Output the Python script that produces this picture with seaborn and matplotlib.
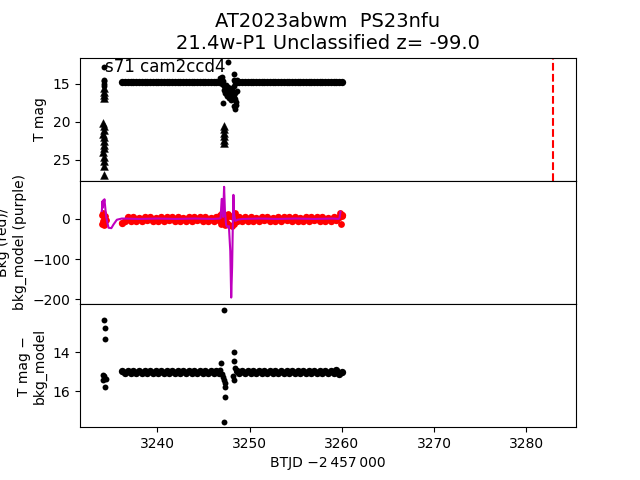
import matplotlib
matplotlib.use("Agg")
import matplotlib.pyplot as plt
import seaborn as sns
import pandas as pd

# ---------------- data ----------------
# dense band times (BTJD - 2457000)
t_band1 = [3236.2, 3236.5, 3236.8, 3237.1, 3237.4, 3237.7, 3238.0, 3238.3, 3238.6,
           3238.9, 3239.2, 3239.5, 3239.8, 3240.1, 3240.4, 3240.7, 3241.0, 3241.3,
           3241.6, 3241.9, 3242.2, 3242.5, 3242.8, 3243.1, 3243.4, 3243.7, 3244.0,
           3244.3, 3244.6, 3244.9, 3245.2, 3245.5, 3245.8, 3246.1, 3246.4, 3246.7]
t_band2 = [3248.6, 3248.9, 3249.2, 3249.5, 3249.8, 3250.1, 3250.4, 3250.7, 3251.0,
           3251.3, 3251.6, 3251.9, 3252.2, 3252.5, 3252.8, 3253.1, 3253.4, 3253.7,
           3254.0, 3254.3, 3254.6, 3254.9, 3255.2, 3255.5, 3255.8, 3256.1, 3256.4,
           3256.7, 3257.0, 3257.3, 3257.6, 3257.9, 3258.2, 3258.5, 3258.8, 3259.1,
           3259.4, 3259.7, 3260.0]

# T mag in the band
tmag_band1 = [14.81, 14.86, 14.82, 14.85, 14.80, 14.84, 14.82, 14.86, 14.81, 14.84,
              14.80, 14.85, 14.83, 14.85, 14.81, 14.86, 14.82, 14.84, 14.80, 14.85,
              14.82, 14.86, 14.81, 14.84, 14.80, 14.85, 14.83, 14.85, 14.81, 14.86,
              14.82, 14.84, 14.80, 14.85, 14.82, 14.86]
tmag_band2 = [14.82, 14.85, 14.80, 14.86, 14.82, 14.84, 14.81, 14.86, 14.82, 14.84,
              14.80, 14.85, 14.83, 14.85, 14.81, 14.86, 14.82, 14.84, 14.80, 14.85,
              14.82, 14.86, 14.81, 14.84, 14.80, 14.85, 14.83, 14.85, 14.81, 14.86,
              14.82, 14.84, 14.80, 14.85, 14.82, 14.86, 14.81, 14.84, 14.83]

# background in the band
bkg_band1 = [-9, -6, 4, -5, 5, -4, 3, -5, 5, -3, 5, -5, 2, -5, 5, -4, 5, -3,
             4, -5, 5, -5, 3, -4, 5, -5, 4, -3, 5, -5, 5, -4, 3, -5, 5, -2]
bkg_band2 = [-6, 5, -5, 4, -5, 5, -4, 3, -5, 5, -3, 5, -5, 2, -5, 5, -4, 5,
             -3, 4, -5, 5, -5, 3, -4, 5, -5, 4, -3, 5, -5, 5, -4, 3, -5, 5,
             -2, 4, 9]

# T mag - bkg_model in the band
diff_band1 = [14.93, 15.06, 14.95, 15.05, 14.93, 15.06, 14.96, 15.04, 14.94, 15.05,
              14.96, 15.04, 14.93, 15.06, 14.95, 15.05, 14.94, 15.05, 14.96, 15.04,
              14.93, 15.06, 14.95, 15.05, 14.94, 15.05, 14.96, 15.04, 14.93, 15.06,
              14.95, 15.05, 14.94, 15.05, 14.96, 15.04]
diff_band2 = [14.94, 15.05, 14.96, 15.04, 14.93, 15.06, 14.95, 15.05, 14.94, 15.05,
              14.96, 15.04, 14.93, 15.06, 14.95, 15.05, 14.94, 15.05, 14.96, 15.04,
              14.93, 15.06, 14.95, 15.05, 14.94, 15.05, 14.96, 15.04, 14.93, 15.06,
              14.95, 15.05, 14.94, 15.05, 14.96, 15.04, 14.92, 15.08, 15.00]

# isolated detections (top panel, dots)
t_dots = [3234.15, 3234.20, 3234.25, 3234.18, 3234.22,
          3246.80, 3246.90, 3247.00, 3247.05, 3247.10, 3247.15, 3247.20, 3247.25,
          3247.30, 3247.35, 3247.40, 3247.45, 3247.50, 3247.55, 3247.60, 3247.65,
          3247.70, 3247.75, 3247.80, 3247.85, 3247.90, 3248.00, 3248.05, 3248.10,
          3248.15, 3248.20, 3248.25, 3248.30, 3248.30, 3248.35, 3248.35, 3248.40,
          3248.40, 3248.45, 3248.45, 3248.50, 3248.55, 3248.60, 3248.65]
tmag_dots = [12.86, 14.7, 15.0, 15.3, 14.5,
             14.3, 14.6, 14.2, 15.0, 14.7, 17.5, 15.3, 15.8,
             16.0, 16.3, 15.2, 16.0, 16.6, 16.5, 12.2, 15.9,
             15.5, 16.9, 16.0, 16.6, 16.2, 17.2, 15.8, 15.6,
             17.0, 16.8, 13.8, 14.5, 17.9, 15.3, 16.7, 18.3,
             14.8, 16.3, 17.0, 17.4, 17.8, 16.0, 14.6]

# upper limits (top panel, triangles)
t_lim = [3234.15, 3234.20, 3234.18, 3234.22, 3234.10, 3234.15, 3234.20, 3234.12,
         3234.18, 3234.22, 3234.15, 3234.20, 3234.10, 3234.18, 3234.20, 3234.15,
         3234.20,
         3247.20, 3247.22, 3247.18, 3247.20, 3247.22, 3247.20]
tmag_lim = [15.6, 16.1, 16.5, 16.9, 20.2, 20.6, 21.1, 21.6,
            22.0, 22.5, 23.0, 23.5, 24.0, 24.6, 25.2, 25.8,
            27.0,
            20.6, 21.0, 21.5, 21.9, 22.4, 22.8]

# isolated background points (middle panel)
t_bkg_pts = [3233.97, 3234.03, 3234.08, 3234.14, 3234.20, 3234.25, 3234.30, 3234.38,
             3246.80, 3246.90, 3247.00, 3247.10, 3247.20, 3247.30, 3247.40, 3247.50,
             3247.60, 3247.75, 3247.90, 3248.05, 3248.20, 3248.35, 3248.45,
             3259.85, 3259.95, 3260.05]
bkg_pts = [10, -12, 16, -6, 4, -15, 8, -3,
           10, -12, 14, -8, 6, -16, 2, -10,
           12, -14, 8, -18, 4, -12, 15,
           14, -12, 8]

# background model (purple line)
t_model = [3233.97, 3234.03, 3234.08, 3234.14, 3234.20, 3234.25, 3234.44, 3234.69,
           3235.00, 3235.23, 3235.60, 3236.14, 3238.0, 3240.0, 3242.0, 3244.0,
           3246.0, 3246.72, 3246.85, 3246.97, 3247.05, 3247.12, 3247.23, 3247.32,
           3247.45, 3247.60, 3247.75, 3247.90, 3248.00, 3248.10, 3248.18, 3248.24,
           3248.32, 3248.45, 3248.70, 3249.20, 3251.0, 3253.0, 3255.0, 3257.0,
           3259.0, 3259.65, 3259.75, 3259.85]
bkg_model = [20, 44, 28, 47, 42, 49, 5, -22,
             -23, -14, -2, 1, 0, 1, 0, 1,
             0, 1, 2, 50, 46, 5, 80, 20,
             -15, -20, -18, -80, -196, -120, -10, 60,
             10, -5, -2, 0, 1, 0, 1, 0,
             1, 0, 2, 18]

# isolated points (bottom panel)
t_diff_pts = [3234.22, 3234.33, 3234.33, 3234.14, 3234.22, 3234.44, 3234.14, 3234.33,
              3247.27, 3247.27, 3247.38, 3247.35, 3247.30, 3247.20, 3246.94, 3246.80,
              3248.32, 3248.32, 3248.25, 3248.40, 3247.00, 3247.10, 3248.20]
diff_pts = [12.34, 12.77, 13.33, 15.16, 15.22, 15.38, 15.42, 15.79,
            11.83, 17.56, 16.28, 15.79, 15.59, 15.42, 14.56, 14.91,
            13.97, 14.43, 15.42, 14.82, 15.10, 15.25, 15.20]

t_marker = 3282.9   # red dashed vertical line

title_text = "AT2023abwm  PS23nfu\n21.4w-P1 Unclassified z= -99.0"
field_text = "s71 cam2ccd4"

# ---------------- figure ----------------
fig, axes = plt.subplots(3, 1, sharex=True, figsize=(6.4, 4.8), dpi=100)
fig.subplots_adjust(hspace=0)
ax1, ax2, ax3 = axes

band_top = pd.DataFrame({"t": t_band1 + t_band2, "mag": tmag_band1 + tmag_band2})
dots_top = pd.DataFrame({"t": t_dots, "mag": tmag_dots})
lim_df = pd.DataFrame({"t": t_lim, "mag": tmag_lim})
band_bkg = pd.DataFrame({"t": t_band1 + t_band2, "bkg": bkg_band1 + bkg_band2})
pts_bkg = pd.DataFrame({"t": t_bkg_pts, "bkg": bkg_pts})
model_df = pd.DataFrame({"t": t_model, "model": bkg_model})
band_diff = pd.DataFrame({"t": t_band1 + t_band2, "diff": diff_band1 + diff_band2})
pts_diff = pd.DataFrame({"t": t_diff_pts, "diff": diff_pts})

BAND_S = 28
PT_S = 18

# top panel
sns.scatterplot(data=band_top, x="t", y="mag", ax=ax1, color="k", s=BAND_S,
                linewidth=0, marker="o")
sns.scatterplot(data=dots_top, x="t", y="mag", ax=ax1, color="k", s=PT_S,
                linewidth=0, marker="o")
sns.scatterplot(data=lim_df, x="t", y="mag", ax=ax1, color="k", s=32,
                linewidth=0.3, edgecolor="k", marker="^")
ax1.axvline(t_marker, color="r", ls="--", lw=1.5)
ax1.text(0.05, 0.88, field_text, transform=ax1.transAxes, fontsize=12)
ax1.set_ylim(27.75, 11.6)
ax1.set_ylabel("T mag")
ax1.set_xlabel("")
ax1.set_title(title_text, fontsize=14)

# middle panel
sns.scatterplot(data=band_bkg, x="t", y="bkg", ax=ax2, color="r", s=BAND_S,
                linewidth=0, marker="o")
sns.scatterplot(data=pts_bkg, x="t", y="bkg", ax=ax2, color="r", s=24,
                linewidth=0, marker="o")
sns.lineplot(data=model_df, x="t", y="model", ax=ax2, color="m", lw=1.5,
             sort=False, estimator=None)
ax2.set_ylim(-212, 95)
ax2.set_ylabel("Bkg (red)/\nbkg_model (purple)")
ax2.set_xlabel("")

# bottom panel
sns.scatterplot(data=band_diff, x="t", y="diff", ax=ax3, color="k", s=BAND_S,
                linewidth=0, marker="o")
sns.scatterplot(data=pts_diff, x="t", y="diff", ax=ax3, color="k", s=PT_S,
                linewidth=0, marker="o")
ax3.set_ylim(17.83, 11.52)
ax3.set_yticks([14, 16])
ax3.set_ylabel("T mag \u2212\nbkg_model")
ax3.set_xlabel("BTJD \u22122\u2009457\u2009000")

ax3.set_xlim(3231.6, 3285.4)
ax3.set_xticks([3240, 3250, 3260, 3270, 3280])

fig.savefig("out.png", dpi=100)
